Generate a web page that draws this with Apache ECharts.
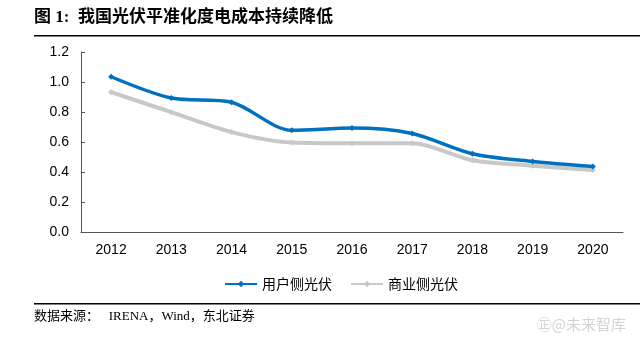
<!DOCTYPE html>
<html>
<head>
<meta charset="utf-8">
<script src="https://cdn.jsdelivr.net/npm/echarts@6/dist/echarts.min.js"></script>
<style>
  html, body { margin: 0; padding: 0; background: #fff; }
  #chart { width: 640px; height: 346px; }
</style>
</head>
<body>
<div id="chart"></div>
<script>
// LCOE of PV power in China, 2012-2020 (元/kWh)
const years = ['2012', '2013', '2014', '2015', '2016', '2017', '2018', '2019', '2020'];
const residentialPV = [1.035, 0.893, 0.865, 0.678, 0.693, 0.657, 0.522, 0.470, 0.437];
const commercialPV  = [0.932, 0.799, 0.666, 0.597, 0.592, 0.592, 0.478, 0.442, 0.413];
const seriesNames = ['用户侧光伏', '商业侧光伏'];
const yTicks = { min: 0, max: 1.2, step: 0.2 };

const titleText = '图 1:  我国光伏平准化度电成本持续降低';
const sourceText = '数据来源：   IRENA，Wind，东北证券';
const markText = '㊣@未来智库';

const axisColor = '#555';
const latin = 'Liberation Sans, Arial, sans-serif';
const cjk = '"Noto Sans CJK SC", sans-serif';
const serif = '"Liberation Serif", "Noto Sans CJK SC", serif';

const chart = echarts.init(document.getElementById('chart'), null, { renderer: 'canvas' });

chart.setOption({
  animation: false,
  backgroundColor: '#fff',
  grid: { left: 81, right: 17, top: 52, bottom: 114, containLabel: false },
  legend: {
    left: 219,
    top: 272,
    itemWidth: 32,
    itemHeight: 8,
    itemGap: 18,
    textStyle: { fontFamily: cjk, fontSize: 14, color: '#000' },
    data: seriesNames
  },
  xAxis: {
    type: 'category',
    data: years,
    boundaryGap: true,
    axisLine: { lineStyle: { color: axisColor, width: 1 } },
    axisTick: { inside: true, length: 4, lineStyle: { color: axisColor } },
    axisLabel: { fontFamily: latin, fontSize: 14, color: '#000', margin: 11 },
    splitLine: { show: false }
  },
  yAxis: {
    type: 'value',
    min: yTicks.min,
    max: yTicks.max,
    interval: yTicks.step,
    axisLine: { show: true, lineStyle: { color: axisColor, width: 1 } },
    axisTick: { show: true, inside: true, length: 4, lineStyle: { color: axisColor } },
    axisLabel: {
      fontFamily: latin, fontSize: 14, color: '#000', margin: 12,
      formatter: v => v.toFixed(1)
    },
    splitLine: { show: false }
  },
  series: [
    {
      name: seriesNames[0],
      type: 'line',
      data: residentialPV,
      smooth: 0.3,
      z: 3,
      symbol: 'diamond',
      symbolSize: 6,
      itemStyle: { color: '#0070C0' },
      lineStyle: { color: '#0070C0', width: 3.5 }
    },
    {
      name: seriesNames[1],
      type: 'line',
      data: commercialPV,
      smooth: 0.3,
      z: 2,
      symbol: 'diamond',
      symbolSize: 6,
      itemStyle: { color: '#C8C8C8' },
      lineStyle: { color: '#C8C8C8', width: 4 }
    }
  ],
  graphic: [
    {
      type: 'text', left: 34, top: 9,
      style: { text: titleText, font: 'bold 17px ' + serif, fill: '#000' }
    },
    {
      type: 'rect', shape: { x: 34, y: 35, width: 606, height: 1.5 },
      style: { fill: '#000' }
    },
    {
      type: 'rect', shape: { x: 34, y: 303, width: 606, height: 1.5 },
      style: { fill: '#000' }
    },
    {
      type: 'text', left: 34, top: 310,
      style: { text: sourceText, font: '13px ' + serif, fill: '#000' }
    },
    {
      type: 'text', right: 14, top: 317,
      style: { text: markText, font: '15px ' + cjk, fill: '#d4d4d4' }
    }
  ]
});
</script>
</body>
</html>
